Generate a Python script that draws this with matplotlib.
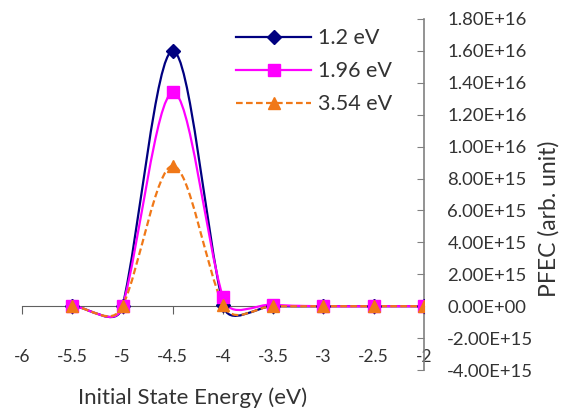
import numpy as np
import matplotlib
matplotlib.use("Agg")
import matplotlib.pyplot as plt
from matplotlib.path import Path
from matplotlib.patches import PathPatch
from matplotlib.ticker import FuncFormatter

# Datos
energy = [-5.5, -5.0, -4.5, -4.0, -3.5, -3.0, -2.5, -2.0]
pfec_12 = [0, 0, 1.60e16, 1.0e14, 0, 0, 0, 0]
pfec_196 = [0, 0, 1.34e16, 5.5e14, 1.0e14, 0, 0, 0]
pfec_354 = [0, 0, 8.8e15, 1.0e14, 0, 0, 0, 0]

labels = ["1.2 eV", "1.96 eV", "3.54 eV"]
colors = ["#000080", "#FF00FF", "#F07818"]
markers = ["D", "s", "^"]
styles = ["-", "-", (0, (3, 1.5))]
msizes = [7, 8.5, 8]

y_ticks = np.arange(-4e15, 1.81e16, 2e15)

plt.rcParams['font.family'] = ['Lato', 'DejaVu Sans']


def smooth_path(ax, x, y, f=0.5):
    """Curva suavizada tipo Excel (Bezier por tramos, calculada en pixeles)"""
    pts = ax.transData.transform(np.column_stack([x, y]))
    n = len(pts)

    def arms(i):
        p1 = pts[i]
        p0 = pts[max(i - 1, 0)]
        p2 = pts[min(i + 1, n - 1)]
        v0, v1 = p1 - p0, p2 - p1
        l0, l1 = np.hypot(*v0), np.hypot(*v1)
        # la direccion sigue sobre todo al tramo mas largo
        t = v0 * l0 + v1 * l1
        nt = np.hypot(*t)
        if nt == 0:
            return p1, p1
        u = t / nt
        out = []
        for l, dx in ((l0, abs(v0[0])), (l1, abs(v1[0]))):
            a = f * l
            if abs(u[0]) > 1e-9:
                a = min(a, dx / 3.0 / abs(u[0]))
            out.append(a)
        return p1 - u * out[0], p1 + u * out[1]

    verts = [pts[0]]
    codes = [Path.MOVETO]
    for i in range(n - 1):
        _, c1 = arms(i)
        c2, _ = arms(i + 1)
        verts += [c1, c2, pts[i + 1]]
        codes += [Path.CURVE4] * 3
    verts = ax.transData.inverted().transform(np.array(verts))
    return Path(verts, codes)


fig = plt.figure(figsize=(5.68, 4.13), dpi=100)
ax = fig.add_axes([0.039, 0.104, 0.707, 0.85])
ax.set_xlim(-6, -2)
ax.set_ylim(-4e15, 1.8e16)

series = [pfec_12, pfec_196, pfec_354]
for vals, lab, c, m, ls, ms in zip(series, labels, colors, markers, styles, msizes):
    patch = PathPatch(smooth_path(ax, energy, vals), facecolor="none", edgecolor=c,
                      lw=1.6, linestyle=ls, zorder=3)
    ax.add_patch(patch)
    ax.plot(energy, vals, linestyle="none", marker=m, markersize=ms,
            markeredgecolor=c, markerfacecolor=c, zorder=4)

# handles para la leyenda con linea
leg_handles = [plt.Line2D([], [], color=c, lw=1.6, linestyle=ls, marker=m,
                          markersize=ms, markerfacecolor=c, markeredgecolor=c)
               for c, m, ls, ms in zip(colors, markers, styles, msizes)]

ax.set_xticks(np.arange(-6, -1.9, 0.5))
ax.set_xticklabels(["-6", "-5.5", "-5", "-4.5", "-4", "-3.5", "-3", "-2.5", "-2"])
ax.set_yticks(y_ticks)


def sci_fmt(v, pos):
    if abs(v) < 1:
        return "0.00E+00"
    return "%.2E" % v


ax.yaxis.set_major_formatter(FuncFormatter(sci_fmt))
ax.yaxis.tick_right()
ax.yaxis.set_label_position("right")

for side in ["left", "top"]:
    ax.spines[side].set_visible(False)
ax.spines["bottom"].set_position(("data", 0))
ax.spines["bottom"].set_color("#606060")
ax.spines["right"].set_color("#808080")
ax.spines["right"].set_linewidth(1.2)

ax.tick_params(axis="y", direction="in", length=5, color="#808080",
               labelsize=13.3, labelcolor="#333333", pad=17)
ax.tick_params(axis="x", direction="out", length=6, color="#606060",
               labelsize=12.5, labelcolor="#333333", pad=25)

ax.set_ylabel("PFEC (arb. unit)", fontsize=16.5, color="#333333")
ax.yaxis.set_label_coords(1.285, 0.43)
ax.set_xlabel("Initial State Energy (eV)", fontsize=16, color="#333333")
ax.xaxis.set_label_coords(0.425, -0.05)

ax.legend(leg_handles, labels, loc="upper left", bbox_to_anchor=(0.5, 1.01),
          frameon=False, fontsize=15.5, handlelength=3.5, labelspacing=0.6,
          handletextpad=0.3, borderaxespad=0.2, labelcolor="#333333")

fig.savefig("out.png", dpi=100)
